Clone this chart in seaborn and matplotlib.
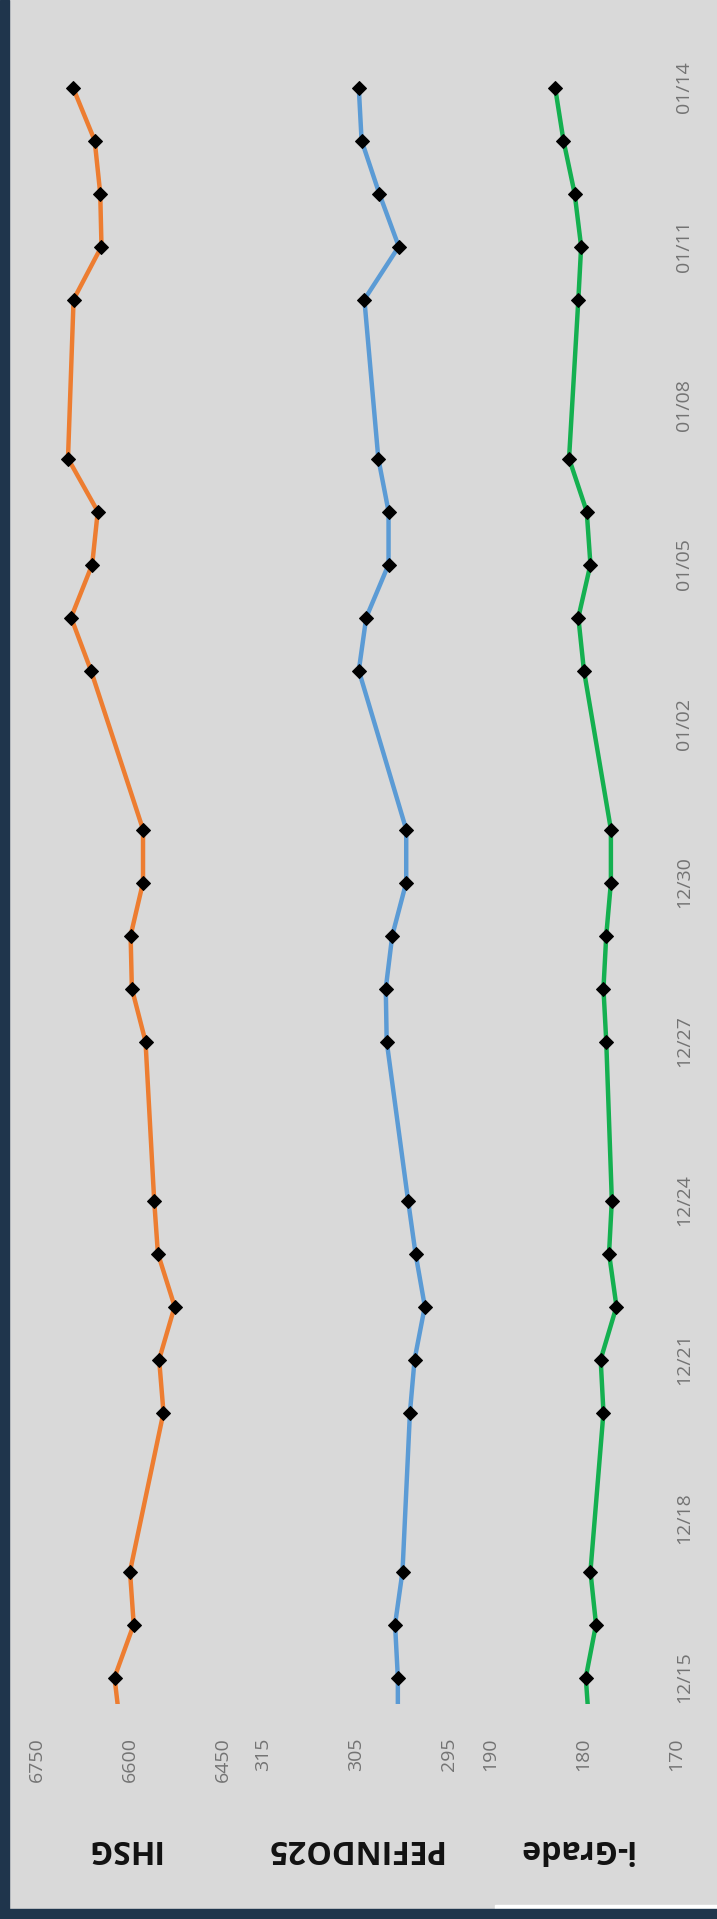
import pandas as pd
import seaborn as sns
import matplotlib.pyplot as plt
import matplotlib.dates as mdates
from matplotlib.patches import Rectangle

# trading days shown (first one is only partly visible at the bottom edge)
dates = ['2021-12-14', '2021-12-15', '2021-12-16', '2021-12-17',
         '2021-12-20', '2021-12-21', '2021-12-22', '2021-12-23', '2021-12-24',
         '2021-12-27', '2021-12-28', '2021-12-29', '2021-12-30', '2021-12-31',
         '2022-01-03', '2022-01-04', '2022-01-05', '2022-01-06', '2022-01-07',
         '2022-01-10', '2022-01-11', '2022-01-12', '2022-01-13', '2022-01-14']

ihsg = [6615, 6625, 6594, 6600,
        6546, 6553, 6528, 6555, 6561,
        6575, 6597, 6599, 6579, 6579,
        6663, 6695, 6661, 6652, 6700,
        6691, 6646, 6648, 6657, 6692]

pefindo25 = [300.5, 300.5, 300.8, 300.0,
             299.2, 298.7, 297.6, 298.6, 299.4,
             301.7, 301.8, 301.1, 299.6, 299.6,
             304.7, 303.9, 301.5, 301.5, 302.6,
             304.1, 300.4, 302.5, 304.4, 304.7]

igrade = [179.3, 179.7, 178.6, 179.2,
          177.8, 178.1, 176.4, 177.2, 176.9,
          177.5, 177.8, 177.5, 177.0, 177.0,
          179.9, 180.5, 179.2, 179.6, 181.5,
          180.5, 180.2, 180.9, 182.1, 183.0]

panel_names = ['IHSG', 'PEFINDO25', 'i-Grade']
panel_ticks = [[6750, 6600, 6450], [315, 305, 295], [190, 180, 170]]
date_ticks = ['2021-12-15', '2021-12-18', '2021-12-21', '2021-12-24', '2021-12-27',
              '2021-12-30', '2022-01-02', '2022-01-05', '2022-01-08', '2022-01-11',
              '2022-01-14']

BG = '#d9d9d9'
NAVY = '#1f354c'
colors = ['#ed7d31', '#5b9bd5', '#14b050']

sns.set_theme(style='white')
plt.rcParams['font.family'] = ['Open Sans', 'DejaVu Sans']

df = pd.DataFrame({'date': pd.to_datetime(dates), 'IHSG': ihsg,
                   'PEFINDO25': pefindo25, 'i-Grade': igrade})

W, H = 717, 1919
fig = plt.figure(figsize=(W / 100, H / 100), dpi=100, facecolor=BG)

# frame scraps from the screenshot
fig.add_artist(Rectangle((0, 0), 9 / W, 1, transform=fig.transFigure, color=NAVY, zorder=5))
fig.add_artist(Rectangle((0, 0), 1, 10 / H, transform=fig.transFigure, color=NAVY, zorder=5))
fig.add_artist(Rectangle((495 / W, 10 / H), 1, 4 / H, transform=fig.transFigure, color='white', zorder=4))

ax_bottom, ax_top = 215, 1858
lefts = [37, 263, 490]
label_shift = [-8, -3, -8]
pw = 186
ylo, yhi = pd.Timestamp('2021-12-14 12:00'), pd.Timestamp('2022-01-14 12:00')
dticks = mdates.date2num(pd.to_datetime(date_ticks))

for i, name in enumerate(panel_names):
    ax = fig.add_axes([lefts[i] / W, ax_bottom / H, pw / W, (ax_top - ax_bottom) / H])
    ax.set_facecolor(BG)
    sns.lineplot(data=df, x=name, y='date', sort=False, orient='y', ax=ax,
                 color=colors[i], linewidth=3.2, marker='D', markersize=7,
                 markerfacecolor='black', markeredgecolor='black')
    ticks = panel_ticks[i]
    ax.set_xlim(ticks[0], ticks[-1])
    ax.set_ylim(ylo, yhi)
    ax.set_xticks(ticks)
    ax.set_xticklabels([str(t) for t in ticks], rotation=90)
    ax.tick_params(axis='x', length=0, pad=24, labelsize=14, labelcolor='#737373')
    ax.set_xlabel('')
    ax.set_ylabel('')
    if i == 2:
        ax.yaxis.tick_right()
        ax.set_yticks(dticks)
        ax.set_yticklabels([pd.Timestamp(d).strftime('%m/%d') for d in date_ticks],
                           rotation=90, va='center', ha='center')
        ax.tick_params(axis='y', length=0, pad=6, labelsize=14, labelcolor='#737373')
    else:
        ax.tick_params(axis='y', left=False, right=False, labelleft=False, labelright=False)
    for s in ax.spines.values():
        s.set_visible(False)
    ax.text(0.5 + label_shift[i] / pw, (H - 1848 - ax_bottom) / (ax_top - ax_bottom), name,
            transform=ax.transAxes, rotation=180, ha='center', va='center',
            fontsize=23, fontweight='bold', color='#111111')

fig.savefig('out.png', dpi=100, facecolor=BG)
